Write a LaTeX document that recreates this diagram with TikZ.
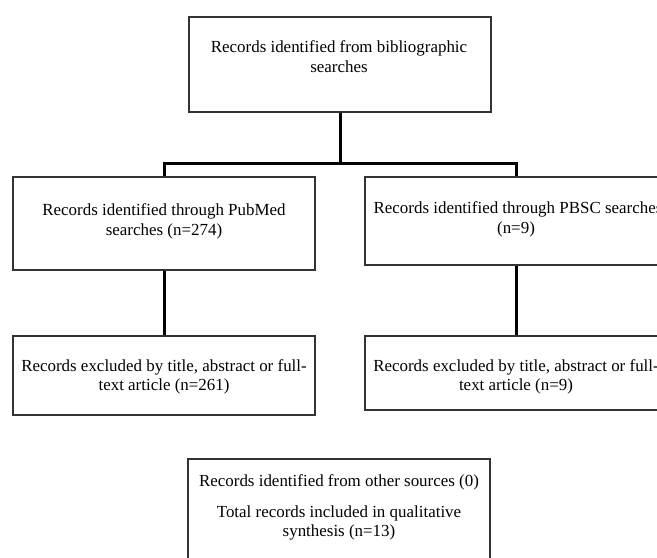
\documentclass[tikz,border=0pt]{standalone}
\usepackage{fontspec}
\setmainfont{Liberation Serif}
\begin{document}
\begin{tikzpicture}[x=1bp,y=-1bp,
  box/.style={draw=black!80,line width=1.2bp,rectangle,inner sep=0pt},
  conn/.style={draw=black,line width=3bp,line join=miter},
  txt/.style={anchor=base,inner sep=0pt,font=\fontsize{17}{20}\selectfont}]
\useasboundingbox (0,0) rectangle (657,558);
\clip (0,0) rectangle (657,558);
% boxes
\node[box,minimum width=302bp,minimum height=95bp] (top) at (340,64.5) {};
\node[box,minimum width=302bp,minimum height=93bp] (pub) at (164,223.5) {};
\node[box,minimum width=302bp,minimum height=79bp] (excla) at (164,375.5) {};
\node[box,minimum width=302bp,minimum height=88bp] (pbsc) at (516,221) {};
\node[box,minimum width=302bp,minimum height=74bp] (exclb) at (516,373) {};
\node[box,minimum width=302bp,minimum height=130bp] (final) at (339,524) {};
% texts
\node[txt] (t1) at (339,53) {Records identified from bibliographic};
\node[txt] (t2) at (339,73) {searches};
\node[txt] (p1) at (164,215.5) {Records identified through PubMed};
\node[txt] (p2) at (164,236) {searches (n=274)};
\node[txt] (e1) at (164,371.5) {Records excluded by title, abstract or full-};
\node[txt] (e2) at (164,390.5) {text article (n=261)};
\node[txt] (b1) at (518,213.3) {Records identified through PBSC searches};
\node[txt] (b2) at (516,233.5) {(n=9)};
\node[txt] (f1) at (516,371.5) {Records excluded by title, abstract or full-};
\node[txt] (f2) at (516,390.5) {text article (n=9)};
\node[txt] (g1) at (339,486) {Records identified from other sources (0)};
\node[txt] (g2) at (339,517) {Total records included in qualitative};
\node[txt] (g3) at (339,536.7) {synthesis (n=13)};
% connectors
\coordinate (j) at (340,164);
\draw[conn] (top.south) -- (j);
\draw[conn] (pub.north) |- (j) -| (pbsc.north);
\draw[conn] (pub.south) -- (excla.north);
\draw[conn] (pbsc.south) -- (exclb.north);
\end{tikzpicture}
\end{document}
